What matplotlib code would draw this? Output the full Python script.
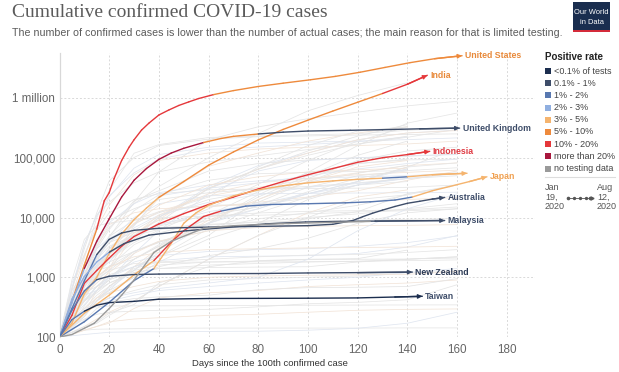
import numpy as np
import matplotlib
matplotlib.use('Agg')
import matplotlib.pyplot as plt
from matplotlib.patches import Rectangle

plt.rcParams['font.family'] = ['Liberation Sans', 'DejaVu Sans']

W, H = 619, 372

# positive-rate colour scale (legend order)
rate_keys = ['<0.1', '0.1-1', '1-2', '2-3', '3-5', '5-10', '10-20', '>20', 'none']
rate_labels = ['<0.1% of tests', '0.1% - 1%', '1% - 2%', '2% - 3%', '3% - 5%',
               '5% - 10%', '10% - 20%', 'more than 20%', 'no testing data']
rate_colors = ['#1c2e4f', '#3e4d69', '#5878b0', '#90afe0', '#f5b46e',
               '#ee8a3c', '#e5383b', '#a8173d', '#9a9a9a']
rate_col = dict(zip(rate_keys, rate_colors))

# highlighted countries: days since 100th case, cumulative cases, rate changes
us_days = [0, 5, 10, 15, 18, 20, 22, 25, 28, 30, 33, 36, 40, 44, 48, 52, 56, 62, 70, 80, 90,
           101, 111, 121, 131, 141, 151, 162]
us_vals = [100, 400, 1600, 6400, 19000, 26000, 45000, 90000, 150000, 200000, 290000, 380000,
           520000, 630000, 750000, 860000, 980000, 1140000, 1330000, 1560000, 1770000,
           2020000, 2300000, 2700000, 3250000, 3900000, 4550000, 5100000]
us_rate = [(0, '5-10'), (14, '10-20'), (58, '5-10')]

india_days = [0, 5, 10, 15, 20, 25, 30, 35, 40, 50, 60, 70, 80, 90, 100, 110, 120, 130, 140, 148]
india_vals = [100, 170, 530, 1000, 2500, 5300, 9200, 14400, 21700, 40000, 75000, 125000, 199000,
              298000, 426000, 605000, 850000, 1190000, 1700000, 2400000]
india_rate = [(0, '3-5'), (40, '5-10'), (122, '10-20')]

uk_days = [0, 5, 10, 15, 20, 25, 30, 35, 40, 45, 50, 58, 65, 70, 80, 90, 100, 117, 130, 145, 161]
uk_vals = [100, 370, 1400, 4000, 9500, 22000, 42000, 66000, 94000, 120000, 144000, 180000,
           210000, 228000, 250000, 268000, 280000, 288000, 295000, 305000, 313000]
uk_rate = [(0, '2-3'), (10, '>20'), (56, '5-10'), (80, '0.1-1')]

indo_days = [0, 5, 10, 15, 20, 25, 30, 40, 50, 60, 70, 80, 90, 100, 110, 120, 130, 140, 149]
indo_vals = [100, 230, 790, 1300, 2100, 3300, 4800, 7800, 11600, 16500, 22000, 30000, 40000,
             52000, 66000, 84000, 100000, 113000, 128000]
indo_rate = [(0, '10-20')]

japan_days = [0, 10, 20, 30, 38, 45, 50, 58, 65, 75, 85, 100, 115, 125, 135, 142, 150, 157, 165, 172]
japan_vals = [100, 250, 500, 1100, 1900, 3900, 6000, 10400, 12800, 15500, 16500, 17000, 17600,
              18300, 19600, 22000, 28000, 33000, 40000, 48000]
japan_rate = [(0, '3-5'), (33, '10-20'), (62, '1-2'), (137, '3-5')]

sing_days = [0, 10, 20, 30, 38, 45, 50, 55, 60, 70, 80, 90, 100, 110, 120, 130, 140, 150, 164]
sing_vals = [100, 180, 380, 880, 1400, 3700, 8000, 12000, 16000, 23000, 29000, 34000, 38000,
             41000, 43500, 45500, 48000, 52000, 55000]
sing_rate = [(0, '1-2'), (36, '3-5'), (124, '1-2'), (134, '3-5')]

aus_days = [0, 5, 10, 15, 20, 25, 30, 40, 60, 80, 100, 110, 118, 122, 126, 130, 135, 140, 145, 150, 155]
aus_vals = [100, 300, 870, 2400, 4300, 5500, 6100, 6600, 6900, 7100, 7300, 7700, 8900, 10300,
            11800, 13300, 15300, 17300, 18700, 20300, 21700]
aus_rate = [(0, '1-2'), (15, '0.1-1')]

malay_days = [0, 5, 10, 15, 20, 26, 36, 51, 68, 83, 99, 113, 127, 155]
malay_vals = [100, 430, 1030, 1800, 2620, 3660, 5070, 6000, 6850, 7820, 8400, 8600, 8700, 8900]
malay_rate = [(0, '2-3'), (20, '0.1-1')]

nz_days = [0, 5, 10, 15, 20, 30, 40, 60, 80, 100, 120, 142]
nz_vals = [100, 280, 590, 910, 1040, 1110, 1130, 1150, 1154, 1180, 1195, 1220]
nz_rate = [(0, '1-2'), (12, '0.1-1')]

taiwan_days = [0, 5, 10, 15, 20, 30, 40, 60, 80, 100, 120, 135, 146]
taiwan_vals = [100, 195, 270, 340, 376, 395, 429, 441, 443, 446, 451, 467, 480]
taiwan_rate = [(0, '1-2'), (8, '<0.1')]

gray_days = [0, 5, 10, 14, 20, 25, 30, 38, 45, 58, 70, 90, 110, 125]
gray_vals = [100, 110, 140, 170, 300, 500, 900, 2600, 4000, 6600, 7300, 7900, 8300, 8600]
gray_rate = [(0, 'none')]

countries = [
    (us_days, us_vals, us_rate, 'United States', '#e8893a'),
    (india_days, india_vals, india_rate, 'India', '#e8893a'),
    (uk_days, uk_vals, uk_rate, 'United Kingdom', '#3e4d69'),
    (indo_days, indo_vals, indo_rate, 'Indonesia', '#df3a42'),
    (sing_days, sing_vals, sing_rate, '', '#f0a050'),
    (japan_days, japan_vals, japan_rate, 'Japan', '#f0a050'),
    (aus_days, aus_vals, aus_rate, 'Australia', '#3e4d69'),
    (malay_days, malay_vals, malay_rate, 'Malaysia', '#3e4d69'),
    (nz_days, nz_vals, nz_rate, 'New Zealand', '#2c3a55'),
    (taiwan_days, taiwan_vals, taiwan_rate, 'Taiwan', '#3e4d69'),
    (gray_days, gray_vals, gray_rate, None, None),
]

# background countries, values at bg_days (line stops where its list stops)
bg_days = [0, 5, 10, 15, 20, 30, 40, 60, 80, 100, 120, 140, 160]
bg_lines = [
    [100, 650, 3000, 12000, 41000, 101000, 160000, 205000, 225000, 232000, 240000, 245000, 251000],
    [100, 500, 2100, 9900, 28500, 119000, 166000, 218000, 231000, 242000, 253000, 288000, 315000],
    [100, 800, 2400, 7200, 22000, 67000, 113000, 150000, 176000, 183000, 190000, 201000, 215000],
    [100, 650, 2300, 6600, 16000, 52000, 90000, 120000, 140000, 150000, 160000, 170000, 190000],
    [100, 400, 1500, 3400, 6800, 17000, 33000, 100000, 254000, 610000, 1100000, 1800000],
    [100, 300, 840, 1800, 4700, 18000, 58000, 200000, 330000, 450000, 580000, 740000, 880000],
    [100, 600, 3500, 11000, 18000, 38000, 58000, 85000, 108000, 137000, 170000, 220000, 300000],
    [100, 670, 3600, 10800, 23000, 56000, 95000, 138000, 151000, 167000, 185000, 224000],
    [100, 300, 600, 1000, 1400, 7500, 21000, 72000, 120000, 190000, 260000, 330000],
    [100, 400, 900, 2100, 3800, 7900, 12000, 22000, 70000, 160000, 280000, 330000],
    [100, 250, 580, 1100, 2000, 4200, 8300, 31000, 65000, 130000, 230000, 360000],
    [100, 240, 700, 1300, 1500, 2000, 3300, 8200, 24000, 57000, 160000, 380000, 560000],
    [100, 270, 560, 1200, 1800, 4900, 10000, 33000, 74000, 120000, 200000, 260000, 290000],
    [100, 450, 1000, 1600, 2400, 5500, 9200, 31000, 64000, 120000, 200000, 260000, 285000],
    [100, 200, 480, 1100, 2100, 4400, 10000, 30000, 65000, 110000, 170000, 230000],
    [100, 300, 860, 3000, 6300, 19000, 28000, 60000, 80000, 92000, 100000, 106000, 115000],
    [100, 300, 680, 2200, 4900, 13000, 24000, 42000, 54000, 57000, 59000, 61000, 68000],
    [100, 380, 1100, 3600, 8200, 17000, 26000, 35000, 41000, 45000, 48000, 50000, 56000],
    [100, 250, 930, 1600, 3000, 7700, 12500, 23000, 32000, 43000, 56000, 74000, 82000],
    [100, 370, 1700, 6100, 12000, 20000, 25000, 29000, 30000, 30500, 31000, 32000, 35000],
    [100, 330, 1000, 4300, 9000, 14000, 20000, 26000, 30000, 33000, 38000, 45000, 50000],
    [100, 300, 800, 2400, 4800, 9000, 12500, 16000, 16600, 21000, 40000, 70000, 82000],
    [100, 300, 900, 2100, 3800, 10000, 17000, 23000, 25000, 25400, 25700, 26000, 26500],
    [100, 300, 1000, 3200, 7600, 12000, 14000, 15500, 16500, 17000, 18000, 20000, 21500],
    [100, 450, 900, 1500, 2400, 5000, 7900, 10500, 11900, 12700, 13000, 13500, 15000],
    [100, 600, 1200, 2300, 3800, 5700, 6700, 7700, 8300, 8700, 9000, 9300, 9600],
    [100, 300, 900, 2000, 3300, 5000, 6300, 7500, 8500, 10000, 11500, 14000, 17000],
    [100, 300, 700, 1600, 3000, 6700, 11000, 18000, 24000, 32000, 37000, 45000, 54000],
    [100, 260, 570, 1300, 2500, 5500, 9000, 15000, 18000, 22000, 28000, 42000, 60000],
    [100, 300, 670, 1300, 2500, 6100, 10400, 20000, 28000, 39000, 55000, 75000],
    [100, 220, 550, 1400, 3000, 5000, 7200, 11000, 15000, 25000, 40000, 70000, 140000],
    [100, 900, 4300, 7300, 8100, 9000, 9900, 10600, 10900, 11500, 12400, 13000, 14000],
    [100, 300, 500, 600, 900, 2500, 6000, 25000, 60000, 90000, 100000, 108000, 113000],
    [100, 150, 250, 600, 1300, 5000, 11000, 25000, 38000, 45000, 52000, 57000, 62000],
    [100, 150, 330, 600, 900, 2000, 3300, 11000, 27000, 56000, 80000, 92000, 95000],
    [100, 300, 800, 1300, 1800, 2700, 3800, 8000, 22000, 50000, 110000, 190000],
    [100, 300, 700, 1300, 2000, 3800, 6200, 14000, 36000, 90000, 190000, 330000],
    [100, 500, 1400, 3000, 4500, 7200, 23000, 31000, 38000, 50000, 65000, 80000, 95000],
    [100, 200, 500, 1000, 2600, 8000, 16000, 35000, 48000, 58000, 63000, 67000],
    [100, 220, 400, 700, 1000, 2000, 3500, 10000, 18000, 40000, 80000, 95000],
    [100, 200, 400, 700, 1100, 1500, 2200, 5000, 20000, 45000, 90000, 130000, 150000],
    [100, 250, 600, 1000, 1500, 3500, 5500, 9000, 14000, 27000, 45000, 65000],
    [100, 300, 800, 1500, 2600, 5000, 7500, 12500, 17000, 25000, 40000, 65000],
    [100, 150, 250, 450, 700, 1500, 3100, 9000, 20000, 40000, 70000, 90000],
    [100, 150, 220, 400, 700, 1300, 3000, 8000, 16000, 32000, 50000, 60000],
    [100, 150, 250, 450, 600, 1000, 1800, 4400, 8000, 20000, 35000, 48000],
    [100, 140, 220, 400, 600, 1500, 2200, 6500, 12000, 22000, 35000, 40000],
    [100, 150, 240, 400, 650, 1300, 2600, 8000, 14000, 25000, 35000, 45000],
    [100, 120, 150, 200, 260, 400, 700, 2000, 5000, 12000, 22000, 29000],
    [100, 120, 140, 170, 230, 400, 700, 2000, 5000, 10000, 20000, 24000],
    [100, 200, 450, 900, 1300, 2700, 3900, 6000, 7500, 9500, 12500, 25000, 35000],
    [100, 200, 500, 1000, 1500, 2700, 4000, 6500, 9500, 12000, 16000, 24000, 35000],
    [100, 230, 420, 700, 1000, 1800, 2300, 2700, 2900, 3000, 3300, 3800, 4900],
    [100, 300, 500, 800, 1200, 2500, 4000, 6000, 6800, 7100, 7300, 7400, 7600],
    [100, 250, 400, 600, 800, 1200, 1400, 1450, 1480, 1500, 1800, 2000, 2200],
    [100, 300, 550, 700, 900, 1300, 1600, 1800, 1870, 1970, 2000, 2020, 2100],
    [100, 300, 600, 950, 1300, 1700, 1770, 1800, 1810, 1820, 1850, 1900, 1950],
    [100, 200, 350, 600, 1000, 1500, 1900, 2200, 2250, 2300, 2500, 3200, 5000],
    [100, 180, 600, 1000, 1500, 2200, 2600, 2900, 3000, 3100, 3150, 3200, 3300],
    [100, 150, 200, 240, 260, 270, 280, 290, 320, 360, 380, 420, 750],
    [100, 120, 150, 180, 250, 350, 800, 1500, 1900, 2000, 2050, 2850],
    [100, 150, 250, 350, 450, 600, 750, 900, 950, 1000, 1050, 1200, 1250],
    [100, 200, 300, 350, 400, 500, 600, 700, 800, 900, 1000, 1200, 1400],
    [100, 200, 300, 450, 550, 700, 850, 1000, 1050, 1080, 1100, 1120, 1250],
    [100, 200, 400, 550, 800, 1200, 1400, 1600, 1700, 1800, 1850, 2000, 2200],
    [100, 180, 250, 400, 550, 1000, 1500, 2300, 3000, 4500, 8000, 12000, 14000],
    [100, 200, 300, 500, 700, 1400, 1800, 2000, 2200, 2350, 2400, 2600, 2900],
    [100, 150, 250, 350, 450, 550, 650, 800, 1000, 2000, 6000, 14000, 25000],
    [100, 110, 130, 150, 170, 300, 450, 550, 600, 700, 750, 800, 900],
    [100, 170, 280, 320, 330, 332, 332, 335, 337, 340, 342, 344, 345],
    [100, 130, 190, 300, 380, 440, 470, 500, 620, 670, 680, 700, 950],
    [100, 120, 130, 135, 136, 138, 140, 141, 141, 141, 141, 142, 142],
    [100, 105, 110, 115, 120, 122, 122, 124, 125, 130, 140, 170, 260],
    [100, 110, 130, 150, 180, 200, 210, 230, 240, 260, 280, 290, 295],
]
bg_palette = ['#e4e4e4', '#e6e6e6', '#e0e6f0', '#f2e4d8', '#e5e5e5']

y_ticks = [100, 1000, 10000, 100000, 1000000]
y_ticklabels = ['100', '1,000', '10,000', '100,000', '1 million']
x_ticks = [0, 20, 40, 60, 80, 100, 120, 140, 160, 180]


def fx(px):
    return px / W


def fy(py):
    return 1 - py / H


fig = plt.figure(figsize=(W / 100, H / 100), dpi=100)
fig.patch.set_facecolor('white')

# plot area: day 0 at x=59.5px, day 180 at 507px; 100 at y=337px, one decade = 59.75px
ax = fig.add_axes([fx(59.5), fy(337), fx(535 - 59.5), (337 - 53) / H])
ax.set_yscale('log')
ax.set_xlim(0, (535 - 59.5) / 2.485)
ax.set_ylim(100, 10 ** (2 + (337 - 53) / 59.75))

for s in ['top', 'right', 'bottom']:
    ax.spines[s].set_visible(False)
ax.spines['left'].set_color('#d8d8d8')
ax.spines['left'].set_linewidth(0.9)

for yv in y_ticks:
    ax.axhline(yv, color='#d9d9d9', lw=0.7, ls=(0, (2, 2)), zorder=0)
for xv in x_ticks[1:]:
    ax.axvline(xv, color='#d9d9d9', lw=0.7, ls=(0, (2, 2)), zorder=0)

ax.set_yticks(y_ticks)
ax.set_yticklabels(y_ticklabels)
ax.yaxis.set_minor_locator(matplotlib.ticker.NullLocator())
ax.set_xticks(x_ticks)
ax.tick_params(axis='both', length=0, labelsize=8.4, labelcolor='#666666')
ax.tick_params(axis='y', pad=3)
ax.tick_params(axis='x', pad=5)

for i, vals in enumerate(bg_lines):
    ax.plot(bg_days[:len(vals)], vals, color=bg_palette[i % len(bg_palette)],
            lw=0.55, zorder=1)


def seg_color(rates, day):
    key = rates[0][1]
    for start, k in rates:
        if day >= start:
            key = k
    return rate_col[key]


for days, vals, rates, label, lab_col in countries:
    for i in range(len(days) - 1):
        ax.plot(days[i:i + 2], vals[i:i + 2], color=seg_color(rates, days[i]),
                lw=1.0, solid_capstyle='round', zorder=3)
    if label is None:
        continue
    c_end = seg_color(rates, days[-2])
    ax.annotate('', xy=(days[-1], vals[-1]), xytext=(days[-2], vals[-2]),
                arrowprops=dict(arrowstyle='-|>', color=c_end, lw=1.0,
                                mutation_scale=6, shrinkA=0, shrinkB=0), zorder=4)
    if label:
        ax.text(days[-1] + 1.2, vals[-1], label, color=lab_col, fontsize=6.3,
                fontweight='bold', va='center', ha='left', zorder=5)

# titles
fig.text(fx(12), fy(17), 'Cumulative confirmed COVID-19 cases', family='Liberation Serif',
         fontsize=14, color='#5b5b5b', va='baseline')
fig.text(fx(12), fy(36), 'The number of confirmed cases is lower than the number of actual cases; '
         'the main reason for that is limited testing.', fontsize=7.65, color='#5b5b5b',
         va='baseline')
fig.text(fx(270), fy(366), 'Days since the 100th confirmed case', fontsize=6.8,
         color='#333333', ha='center', va='baseline')

# logo
fig.patches.append(Rectangle((fx(573), fy(32)), fx(37), 30 / H, transform=fig.transFigure,
                             facecolor='#1a2e4f', edgecolor='none'))
fig.patches.append(Rectangle((fx(573), fy(32)), fx(37), 2.5 / H, transform=fig.transFigure,
                             facecolor='#d42b3a', edgecolor='none'))
fig.text(fx(591.5), fy(12), 'Our World', fontsize=5.4, color='white', ha='center', va='center')
fig.text(fx(591.5), fy(22), 'in Data', fontsize=5.4, color='white', ha='center', va='center')

# legend
fig.text(fx(545), fy(57), 'Positive rate', fontsize=7, fontweight='bold', color='#222222',
         va='center')
for i, (lab, col) in enumerate(zip(rate_labels, rate_colors)):
    yc = 71 + i * 12.2
    fig.patches.append(Rectangle((fx(545), fy(yc + 3)), fx(6), 6 / H, transform=fig.transFigure,
                                 facecolor=col, edgecolor='none'))
    fig.text(fx(554), fy(yc), lab, fontsize=6.5, color='#444444', va='center')
fig.add_artist(plt.Line2D([fx(545), fx(615)], [fy(177), fy(177)], color='#dddddd', lw=0.8))
fig.text(fx(545), fy(197), 'Jan\n19,\n2020', fontsize=6.5, color='#555555', va='center',
         linespacing=1.1)
fig.text(fx(597), fy(197), 'Aug\n12,\n2020', fontsize=6.5, color='#555555', va='center',
         linespacing=1.1)
fig.add_artist(plt.Line2D([fx(568), fx(590)], [fy(198), fy(198)], color='#555555', lw=0.6,
                          marker='o', markersize=1.6, markevery=[0, 1]))
fig.add_artist(plt.Line2D([fx(574), fx(580), fx(586)], [fy(198)] * 3, color='#555555',
                          lw=0, marker='o', markersize=1.4))
fig.add_artist(plt.Line2D([fx(592)], [fy(198)], color='#555555', lw=0, marker='>',
                          markersize=2.2))

fig.savefig('out.png', dpi=100)
